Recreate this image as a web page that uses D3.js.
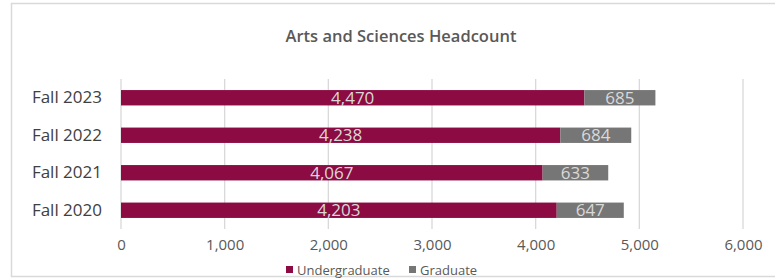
<!DOCTYPE html>
<html lang="en">
<head>
<meta charset="utf-8">
<title>Arts and Sciences Headcount</title>
<script src="https://d3js.org/d3.v7.min.js"></script>
<style>
  body { margin: 0; background: #fff; }
  svg text { font-family: "Open Sans", "Noto Sans", sans-serif; }
</style>
</head>
<body>
<div id="chart"></div>
<script>
// data
var terms = ["Fall 2023", "Fall 2022", "Fall 2021", "Fall 2020"];
var undergrad = [4470, 4238, 4067, 4203];
var graduate = [685, 684, 633, 647];
var ticks = [0, 1000, 2000, 3000, 4000, 5000, 6000];
var seriesNames = ["Undergraduate", "Graduate"];
var colors = ["#8c0b42", "#767676"];

var W = 775, H = 279;
var margin = {top: 79, left: 121, right: 32, bottom: 50};
var width = W - margin.left - margin.right,
    height = H - margin.top - margin.bottom;

var svg = d3.select("#chart").append("svg")
    .attr("width", W)
    .attr("height", H);

// chart frame
svg.append("rect")
    .attr("x", 11.5).attr("y", 3.5)
    .attr("width", W + 10).attr("height", 273)
    .attr("fill", "#fff")
    .attr("stroke", "#d9d9d9")
    .attr("stroke-width", 1.5);

svg.append("text")
    .attr("x", 401).attr("y", 42)
    .attr("text-anchor", "middle")
    .attr("font-size", 16.5).attr("font-weight", 600)
    .attr("fill", "#595959")
    .text("Arts and Sciences Headcount");

var g = svg.append("g")
    .attr("transform", "translate(" + margin.left + "," + margin.top + ")");

var x = d3.scaleLinear().domain([0, 6000]).range([0, width]);
var y = d3.scaleBand().domain(terms).range([0, height]).paddingInner(0.59).paddingOuter(0.295);

// gridlines
g.selectAll("line.grid")
    .data(ticks)
    .enter().append("line")
      .attr("class", "grid")
      .attr("x1", d => x(d)).attr("x2", d => x(d))
      .attr("y1", 0).attr("y2", height)
      .attr("stroke", "#d9d9d9").attr("stroke-width", 1.3);

// x axis labels
var xAxis = g.append("g")
    .attr("transform", "translate(0," + height + ")")
    .call(d3.axisBottom(x).tickValues(ticks).tickFormat(d3.format(",")).tickSize(0).tickPadding(10));
xAxis.select(".domain").remove();
xAxis.selectAll("text")
    .attr("font-size", 15).attr("fill", "#595959")
    .style("font-family", "'Open Sans', sans-serif");

// y axis labels
var yAxis = g.append("g")
    .call(d3.axisLeft(y).tickSize(0).tickPadding(19));
yAxis.select(".domain").remove();
yAxis.selectAll("text")
    .attr("font-size", 17).attr("fill", "#404040")
    .style("font-family", "'Open Sans', sans-serif");

var rows = terms.map((t, i) => ({term: t, u: undergrad[i], gr: graduate[i]}));

// undergraduate bars
g.selectAll("rect.ug")
    .data(rows)
    .enter().append("rect")
      .attr("class", "ug")
      .attr("x", x(0))
      .attr("y", d => y(d.term))
      .attr("width", d => x(d.u) - x(0))
      .attr("height", y.bandwidth())
      .attr("fill", colors[0]);

// graduate bars
g.selectAll("rect.gr")
    .data(rows)
    .enter().append("rect")
      .attr("class", "gr")
      .attr("x", d => x(d.u))
      .attr("y", d => y(d.term))
      .attr("width", d => x(d.u + d.gr) - x(d.u))
      .attr("height", y.bandwidth())
      .attr("fill", colors[1]);

// value labels
var fmt = d3.format(",");
g.selectAll("text.ugl")
    .data(rows)
    .enter().append("text")
      .attr("x", d => x(d.u / 2))
      .attr("y", d => y(d.term) + y.bandwidth() / 2)
      .attr("dy", "0.36em")
      .attr("text-anchor", "middle")
      .attr("font-size", 17).attr("fill", "#d9d9d9")
      .text(d => fmt(d.u));
g.selectAll("text.grl")
    .data(rows)
    .enter().append("text")
      .attr("x", d => x(d.u + d.gr / 2))
      .attr("y", d => y(d.term) + y.bandwidth() / 2)
      .attr("dy", "0.36em")
      .attr("text-anchor", "middle")
      .attr("font-size", 17).attr("fill", "#d9d9d9")
      .text(d => fmt(d.gr));

// legend
var legend = svg.append("g").attr("transform", "translate(286,270)");
var lx = [0, 123];
seriesNames.forEach(function(n, i) {
  legend.append("rect")
      .attr("x", lx[i]).attr("y", -4)
      .attr("width", 7).attr("height", 7)
      .attr("fill", colors[i]);
  legend.append("text")
      .attr("x", lx[i] + 11).attr("y", 0)
      .attr("dy", "0.35em")
      .attr("font-size", 13).attr("fill", "#595959")
      .text(n);
});
</script>
</body>
</html>
